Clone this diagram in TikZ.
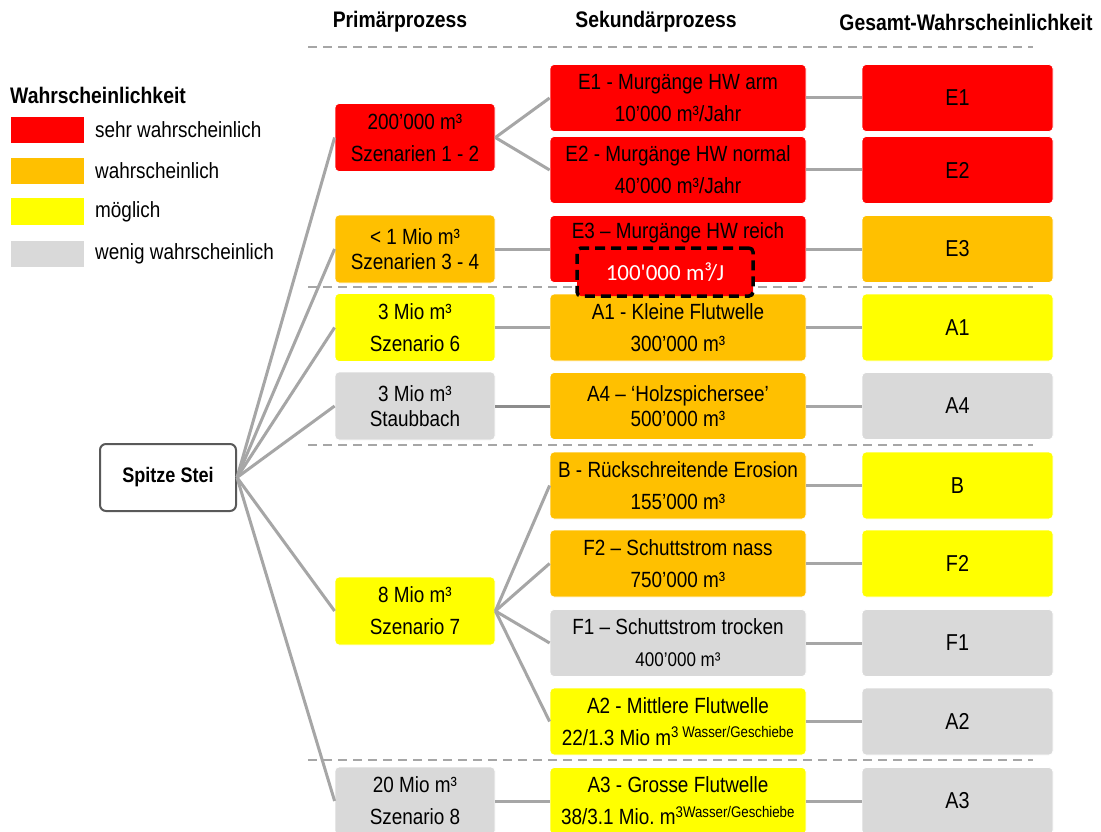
\documentclass[tikz,border=0pt]{standalone}
\usepackage{fontspec}
\setmainfont{Liberation Sans}[FakeStretch=0.86]
\newfontfamily\calibri{Carlito}[Ligatures=TeXOff]
\usetikzlibrary{positioning}
\definecolor{sehr}{HTML}{FF0000}
\definecolor{wahr}{HTML}{FFC000}
\definecolor{moeglich}{HTML}{FFFF00}
\definecolor{wenig}{HTML}{D9D9D9}
\definecolor{linkgray}{HTML}{A6A6A6}
\definecolor{linkdark}{HTML}{8C8C8C}
\definecolor{frame}{HTML}{595959}
\tikzset{
  box/.style={
    rectangle,
    rounded corners=4pt,
    draw=white,
    line width=0.8pt,
    align=center,
    inner sep=0pt,
    text=black,
    font=\fontsize{22}{32}\selectfont
  },
  tight/.style={font=\fontsize{22}{24.5}\selectfont},
  prim_box/.style={box, minimum width=160pt, minimum height=68pt},
  sek_box/.style={box, minimum width=256pt, minimum height=67pt},
  ges_box/.style={box, minimum width=191pt, minimum height=67pt,
    font=\fontsize{23}{25}\selectfont},
  lvl_sehr/.style={fill=sehr},
  lvl_wahr/.style={fill=wahr},
  lvl_moeglich/.style={fill=moeglich},
  lvl_wenig/.style={fill=wenig},
  conn/.style={draw=linkgray, line width=3pt},
  sep/.style={draw=linkgray, line width=1.5pt, dash pattern=on 9pt off 6pt},
  head/.style={font=\bfseries\fontsize{22.5}{25}\selectfont, text=black},
  legend_box/.style={rectangle, minimum width=73pt, minimum height=26pt, inner sep=0pt},
  legend_text/.style={anchor=west, inner sep=0pt, font=\fontsize{22}{24}\selectfont}
}

\begin{document}
\begin{tikzpicture}[x=1pt, y=-1pt]
  \useasboundingbox (0,0) rectangle (1101,832);
  \fill[white] (0,0) rectangle (1101,832);
  \clip (0,0) rectangle (1101,832);

  %====================================================================
  % Column headers and row separators
  %====================================================================
  \node[head] (h_prim) at (400, 22) {Primärprozess};
  \node[head] (h_sek)  at (656, 22) {Sekundärprozess};
  \node[head] (h_ges)  at (966, 22) {Gesamt-Wahrscheinlichkeit};

  \coordinate (sep_l) at (308, 0);
  \coordinate (sep_r) at (1033, 0);
  \foreach \yy in {47, 287, 445, 760}
    \draw[sep] (sep_l |- 0,\yy) -- (sep_r |- 0,\yy);

  %====================================================================
  % Legend
  %====================================================================
  \node[head, anchor=west, inner sep=0pt] (leg_title) at (10, 95) {Wahrscheinlichkeit};
  \node[legend_box, fill=sehr]     (leg_sehr) at (47, 130)   {};
  \node[legend_box, fill=wahr]     (leg_wahr) at (47, 171)   {};
  \node[legend_box, fill=moeglich] (leg_mgl)  at (47, 211.5) {};
  \node[legend_box, fill=wenig]    (leg_wen)  at (47, 253.5) {};
  \node[legend_text] at (95, 130)   {sehr wahrscheinlich};
  \node[legend_text] at (95, 171)   {wahrscheinlich};
  \node[legend_text] at (95, 211.5) {möglich};
  \node[legend_text] at (95, 253.5) {wenig wahrscheinlich};

  %====================================================================
  % Root
  %====================================================================
  \node[rectangle, rounded corners=6pt, draw=frame, line width=2pt, fill=white,
        minimum width=136pt, minimum height=67pt,
        font=\bfseries\fontsize{21}{24}\selectfont] (spitze) at (168, 477.5) {Spitze Stei};

  %====================================================================
  % Primary processes
  %====================================================================
  \node[prim_box, lvl_sehr]            (p_one)   at (415, 137.5) {200’000 m³\\Szenarien 1 - 2};
  \node[prim_box, lvl_wahr, tight]     (p_two)   at (415, 249)   {< 1 Mio m³\\Szenarien 3 - 4};
  \node[prim_box, lvl_moeglich]        (p_three) at (415, 327.5) {3 Mio m³\\Szenario 6};
  \node[prim_box, lvl_wenig, tight]    (p_four)  at (415, 406)   {3 Mio m³\\Staubbach};
  \node[prim_box, lvl_moeglich]        (p_five)  at (415, 611)   {8 Mio m³\\Szenario 7};
  \node[prim_box, lvl_wenig]           (p_six)   at (415, 801)   {20 Mio m³\\Szenario 8};

  %====================================================================
  % Secondary processes
  %====================================================================
  \node[sek_box, lvl_sehr]         (s_eone)   at (678, 98)    {E1 - Murgänge HW arm\\10’000 m³/Jahr};
  \node[sek_box, lvl_sehr]         (s_etwo)   at (678, 170)   {E2 - Murgänge HW normal\\40’000 m³/Jahr};
  \node[sek_box, lvl_sehr]         (s_ethree) at (678, 249)   {E3 – Murgänge HW reich\\\phantom{Xg}};
  \node[sek_box, lvl_wahr]         (s_aone)   at (678, 327.5) {A1 - Kleine Flutwelle\\300’000 m³};
  \node[sek_box, lvl_wahr, tight]  (s_afour)  at (678, 406)   {A4 – ‘Holzspichersee’\\500’000 m³};
  \node[sek_box, lvl_wahr]         (s_b)      at (678, 485.5) {B - Rückschreitende Erosion\\155’000 m³};
  \node[sek_box, lvl_wahr]         (s_ftwo)   at (678, 563.5) {F2 – Schuttstrom nass\\750’000 m³};
  \node[sek_box, lvl_wenig]        (s_fone)   at (678, 643)
    {F1 – Schuttstrom trocken\\{\fontsize{19.8}{32}\selectfont 400’000 m³}};
  \node[sek_box, lvl_moeglich]     (s_atwo)   at (678, 721.5)
    {A2 - Mittlere Flutwelle\\22/1.3 Mio m\textsuperscript{3 Wasser/Geschiebe}};
  \node[sek_box, lvl_moeglich]     (s_athree) at (678, 801)
    {A3 - Grosse Flutwelle\\38/3.1 Mio.\ m\textsuperscript{3Wasser/Geschiebe}};

  %====================================================================
  % Overall probability
  %====================================================================
  \node[ges_box, lvl_sehr]     (g_eone)   at (957.5, 98)    {E1};
  \node[ges_box, lvl_sehr]     (g_etwo)   at (957.5, 170)   {E2};
  \node[ges_box, lvl_wahr]     (g_ethree) at (957.5, 249)   {E3};
  \node[ges_box, lvl_moeglich] (g_aone)   at (957.5, 327.5) {A1};
  \node[ges_box, lvl_wenig]    (g_afour)  at (957.5, 406)   {A4};
  \node[ges_box, lvl_moeglich] (g_b)      at (957.5, 485.5) {B};
  \node[ges_box, lvl_moeglich] (g_ftwo)   at (957.5, 563.5) {F2};
  \node[ges_box, lvl_wenig]    (g_fone)   at (957.5, 643)   {F1};
  \node[ges_box, lvl_wenig]    (g_atwo)   at (957.5, 721.5) {A2};
  \node[ges_box, lvl_wenig]    (g_athree) at (957.5, 801)   {A3};

  %====================================================================
  % Connectors: root -> primary -> secondary -> overall
  %====================================================================
  \foreach \pp in {p_one, p_two, p_three, p_four, p_five, p_six}
    \draw[conn] (spitze.east) -- (\pp.west);

  \draw[conn] (p_one.east) -- (s_eone.west);
  \draw[conn] (p_one.east) -- (s_etwo.west);
  \draw[conn] (p_two.east) -- (s_ethree.west);
  \draw[conn] (p_three.east) -- (s_aone.west);
  \draw[conn, draw=linkdark] (p_four.east) -- (s_afour.west);
  \foreach \ss in {s_b, s_ftwo, s_fone, s_atwo}
    \draw[conn] (p_five.east) -- (\ss.west);
  \draw[conn] (p_six.east) -- (s_athree.west);

  \foreach \kk in {eone, etwo, ethree, aone, afour, b, ftwo, fone, atwo, athree}
    \draw[conn] (s_\kk.east) -- (g_\kk.west);

  %====================================================================
  % Highlighted volume on E3
  %====================================================================
  \node[rectangle, rounded corners=4pt, fill=sehr, draw=black, line width=3.5pt,
        dash pattern=on 10pt off 6pt, minimum width=176pt, minimum height=48pt,
        text=white, font=\calibri\fontsize{23}{28}\selectfont]
        (e_three_vol) at (665, 272) {100'000 m³/J};

\end{tikzpicture}
\end{document}
